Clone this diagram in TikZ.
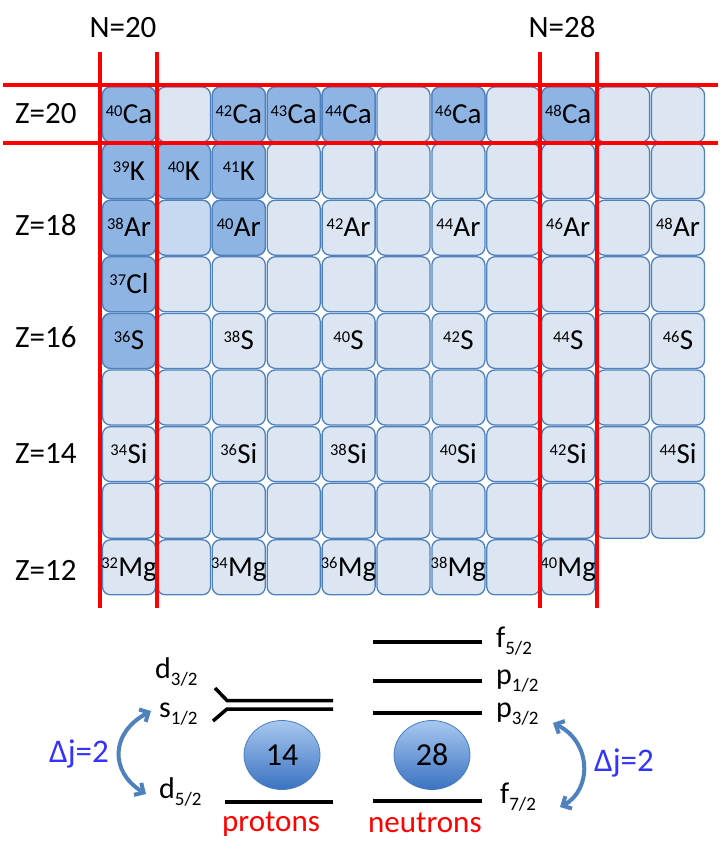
\documentclass[tikz,border=0pt]{standalone}
\usepackage{fontspec}
\setmainfont{Carlito}
\usetikzlibrary{arrows.meta,shapes.geometric}
\definecolor{cellLight}{HTML}{DCE6F2}
\definecolor{cellDark}{HTML}{8EB4E3}
\definecolor{cellMid}{HTML}{C6D9F1}
\definecolor{cellBorder}{HTML}{4F81BD}
\definecolor{arrowBlue}{HTML}{4F81BD}
\definecolor{djBlue}{HTML}{3333FF}
\definecolor{ballTop}{HTML}{A8C8F0}
\definecolor{ballBot}{HTML}{3A72C2}
\definecolor{ballEdge}{HTML}{4A7EBB}
\newcommand{\iso}[2]{\raisebox{7.5pt}{\fontsize{16.5}{16.5}\selectfont #1}\kern0.3pt{\fontsize{29}{29}\selectfont #2}}
\newcommand{\lev}[2]{{\fontsize{30}{30}\selectfont #1}\raisebox{-7pt}{\fontsize{19}{19}\selectfont #2}}
\tikzset{
  cell/.style={rectangle, rounded corners=8pt, minimum width=53pt, minimum height=55pt,
    draw=cellBorder, line width=1.3pt, fill=cellLight, inner sep=0pt},
  isotext/.style={inner sep=0pt, text height=18pt, text depth=0pt},
  magic/.style={red, line width=4pt},
  zlab/.style={anchor=base west, inner sep=0pt, font=\fontsize{31}{31}\selectfont},
  nlab/.style={anchor=base, inner sep=0pt, font=\fontsize{31}{31}\selectfont},
  level/.style={line width=3.5pt, black},
  levlab/.style={anchor=base west, inner sep=0pt},
  dj/.style={anchor=base west, inner sep=0pt, text=djBlue, font=\fontsize{33}{33}\selectfont},
  nuc/.style={anchor=base west, inner sep=0pt, text=red, font=\fontsize{31}{31}\selectfont},
  ball/.style={ellipse, minimum width=76pt, minimum height=69pt, inner sep=0pt,
    top color=ballTop, bottom color=ballBot, draw=ballEdge, line width=0.8pt,
    font=\fontsize{32}{32}\selectfont},
  swing/.style={arrowBlue, line width=4pt, {Straight Barb[length=7pt,width=14pt]}-{Straight Barb[length=7pt,width=14pt]}}
}
\begin{document}
\begin{tikzpicture}[x=1pt,y=-1pt]
\useasboundingbox[fill=white] (0,0) rectangle (720,854);
% grid of cells
\foreach \j in {0,...,8}{
  \foreach \i in {0,...,10}{
    \pgfmathtruncatemacro\skipcell{(\j==8)&&(\i>8)}
    \ifnum\skipcell=0
      \node[cell] (c-\i-\j) at ({129+54.9*\i},{114.5+56.6*\j}) {};
    \fi
  }
}
\foreach \i/\j in {0/0,2/0,3/0,4/0,6/0,8/0,0/1,1/1,2/1,0/2,2/2,0/3,0/4}{
  \node[cell, fill=cellDark] (d-\i-\j) at (c-\i-\j) {};
}
\node[cell, fill=cellMid] (d-1-2) at (c-1-2) {};
\foreach \i/\j/\a/\e in {0/0/40/Ca,2/0/42/Ca,3/0/43/Ca,4/0/44/Ca,6/0/46/Ca,8/0/48/Ca,
  0/1/39/K,1/1/40/K,2/1/41/K,
  0/2/38/Ar,2/2/40/Ar,4/2/42/Ar,6/2/44/Ar,8/2/46/Ar,10/2/48/Ar,
  0/3/37/Cl,
  0/4/36/S,2/4/38/S,4/4/40/S,6/4/42/S,8/4/44/S,10/4/46/S,
  0/6/34/Si,2/6/36/Si,4/6/38/Si,6/6/40/Si,8/6/42/Si,10/6/44/Si,
  0/8/32/Mg,2/8/34/Mg,4/8/36/Mg,6/8/38/Mg,8/8/40/Mg}{
  \node[isotext] (t-\i-\j) at (c-\i-\j) {\iso{\a}{\e}};
}
% magic lines
\draw[magic] (3,85) -- (718,85);
\draw[magic] (3,143) -- (718,143);
\draw[magic] (100,52) -- (100,608);
\draw[magic] (156.5,52) -- (156.5,608);
\draw[magic] (540,52) -- (540,608);
\draw[magic] (597,52) -- (597,608);
% labels
\node[nlab] (n20) at (123,37) {N=20};
\node[nlab] (n28) at (562,37) {N=28};
\node[zlab] (z20) at (15,123) {Z=20};
\node[zlab] (z18) at (15,235) {Z=18};
\node[zlab] (z16) at (15,347) {Z=16};
\node[zlab] (z14) at (15,463) {Z=14};
\node[zlab] (z12) at (15,580) {Z=12};
% proton levels
\draw[level] (215,688) -- (227,700.5) -- (333,700.5);
\draw[level] (213,721) -- (227,709) -- (333,709);
\draw[level] (225,802) -- (333,802);
\node[levlab] (pd32) at (155,678) {\lev{d}{3/2}};
\node[levlab] (ps12) at (159,717) {\lev{s}{1/2}};
\node[levlab] (pd52) at (159,798) {\lev{d}{5/2}};
\node[ball] (b14) at (282,755) {14};
\node[nuc] (prot) at (222,831) {protons};
\node[dj] (djl) at (49,762) {Δj=2};
\coordinate (al1) at (146,794);
\coordinate (al2) at (151,711);
\draw[swing] (al1) .. controls (110,772) and (110,733) .. (al2);
% neutron levels
\draw[level] (373,642) -- (482,642);
\draw[level] (373,681) -- (482,681);
\draw[level] (373,713) -- (482,713);
\draw[level] (373,801) -- (482,801);
\node[levlab] (nf52) at (496,647) {\lev{f}{5/2}};
\node[levlab] (np12) at (496,684) {\lev{p}{1/2}};
\node[levlab] (np32) at (496,717) {\lev{p}{3/2}};
\node[levlab] (nf72) at (500,803) {\lev{f}{7/2}};
\node[ball] (b28) at (432,755) {28};
\node[nuc] (neut) at (368,832) {neutrons};
\node[dj] (djr) at (594,771) {Δj=2};
\coordinate (ar1) at (553,723);
\coordinate (ar2) at (560,807);
\draw[swing] (ar1) .. controls (592,742) and (592,790) .. (ar2);
\end{tikzpicture}
\end{document}
